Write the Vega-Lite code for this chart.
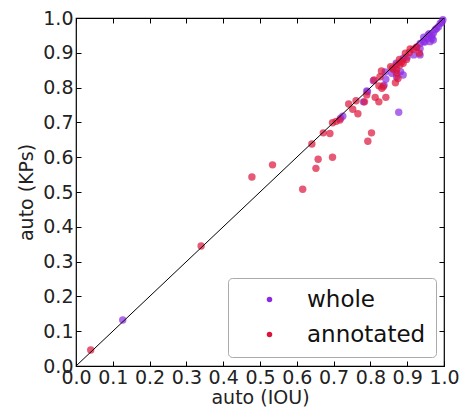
{
  "$schema": "https://vega.github.io/schema/vega-lite/v6.json",
  "width": 368,
  "height": 348,
  "autosize": "none",
  "padding": {"left": 76, "top": 18, "right": 24, "bottom": 48},
  "background": "white",
  "config": {
    "view": {"stroke": "black", "strokeWidth": 1.2},
    "font": "DejaVu Sans",
    "axis": {
      "grid": false,
      "domain": false,
      "tickColor": "black",
      "tickSize": -5,
      "labelFont": "DejaVu Sans",
      "labelFontSize": 19,
      "labelColor": "#222",
      "titleFont": "DejaVu Sans",
      "titleFontSize": 19,
      "titleFontWeight": "normal",
      "titleColor": "#222"
    }
  },
  "layer": [
    {
      "data": {
        "values": [
          {"iou": 0.127, "kps": 0.132, "series": "whole"},
          {"iou": 0.719, "kps": 0.712, "series": "whole"},
          {"iou": 0.725, "kps": 0.718, "series": "whole"},
          {"iou": 0.781, "kps": 0.759, "series": "whole"},
          {"iou": 0.790, "kps": 0.790, "series": "whole"},
          {"iou": 0.792, "kps": 0.788, "series": "whole"},
          {"iou": 0.808, "kps": 0.820, "series": "whole"},
          {"iou": 0.837, "kps": 0.807, "series": "whole"},
          {"iou": 0.842, "kps": 0.824, "series": "whole"},
          {"iou": 0.864, "kps": 0.851, "series": "whole"},
          {"iou": 0.858, "kps": 0.841, "series": "whole"},
          {"iou": 0.871, "kps": 0.831, "series": "whole"},
          {"iou": 0.882, "kps": 0.846, "series": "whole"},
          {"iou": 0.889, "kps": 0.836, "series": "whole"},
          {"iou": 0.877, "kps": 0.729, "series": "whole"},
          {"iou": 0.900, "kps": 0.888, "series": "whole"},
          {"iou": 0.918, "kps": 0.894, "series": "whole"},
          {"iou": 0.935, "kps": 0.894, "series": "whole"},
          {"iou": 0.935, "kps": 0.912, "series": "whole"},
          {"iou": 0.935, "kps": 0.927, "series": "whole"},
          {"iou": 0.944, "kps": 0.932, "series": "whole"},
          {"iou": 0.948, "kps": 0.931, "series": "whole"},
          {"iou": 0.953, "kps": 0.941, "series": "whole"},
          {"iou": 0.962, "kps": 0.932, "series": "whole"},
          {"iou": 0.967, "kps": 0.941, "series": "whole"},
          {"iou": 0.971, "kps": 0.937, "series": "whole"},
          {"iou": 0.957, "kps": 0.951, "series": "whole"},
          {"iou": 0.967, "kps": 0.950, "series": "whole"},
          {"iou": 0.971, "kps": 0.956, "series": "whole"},
          {"iou": 0.976, "kps": 0.966, "series": "whole"},
          {"iou": 0.980, "kps": 0.970, "series": "whole"},
          {"iou": 0.985, "kps": 0.975, "series": "whole"},
          {"iou": 0.990, "kps": 0.985, "series": "whole"},
          {"iou": 0.994, "kps": 0.987, "series": "whole"},
          {"iou": 0.997, "kps": 0.995, "series": "whole"},
          {"iou": 0.925, "kps": 0.915, "series": "whole"},
          {"iou": 0.945, "kps": 0.945, "series": "whole"},
          {"iou": 0.960, "kps": 0.955, "series": "whole"},
          {"iou": 0.890, "kps": 0.885, "series": "whole"},
          {"iou": 0.870, "kps": 0.870, "series": "whole"},
          {"iou": 0.840, "kps": 0.845, "series": "whole"},
          {"iou": 0.040, "kps": 0.046, "series": "annotated"},
          {"iou": 0.340, "kps": 0.345, "series": "annotated"},
          {"iou": 0.478, "kps": 0.543, "series": "annotated"},
          {"iou": 0.534, "kps": 0.578, "series": "annotated"},
          {"iou": 0.616, "kps": 0.508, "series": "annotated"},
          {"iou": 0.652, "kps": 0.568, "series": "annotated"},
          {"iou": 0.658, "kps": 0.594, "series": "annotated"},
          {"iou": 0.697, "kps": 0.600, "series": "annotated"},
          {"iou": 0.641, "kps": 0.638, "series": "annotated"},
          {"iou": 0.672, "kps": 0.670, "series": "annotated"},
          {"iou": 0.690, "kps": 0.668, "series": "annotated"},
          {"iou": 0.697, "kps": 0.699, "series": "annotated"},
          {"iou": 0.707, "kps": 0.703, "series": "annotated"},
          {"iou": 0.717, "kps": 0.707, "series": "annotated"},
          {"iou": 0.793, "kps": 0.646, "series": "annotated"},
          {"iou": 0.803, "kps": 0.670, "series": "annotated"},
          {"iou": 0.741, "kps": 0.753, "series": "annotated"},
          {"iou": 0.752, "kps": 0.738, "series": "annotated"},
          {"iou": 0.761, "kps": 0.762, "series": "annotated"},
          {"iou": 0.766, "kps": 0.725, "series": "annotated"},
          {"iou": 0.784, "kps": 0.759, "series": "annotated"},
          {"iou": 0.790, "kps": 0.779, "series": "annotated"},
          {"iou": 0.813, "kps": 0.772, "series": "annotated"},
          {"iou": 0.823, "kps": 0.759, "series": "annotated"},
          {"iou": 0.842, "kps": 0.772, "series": "annotated"},
          {"iou": 0.810, "kps": 0.822, "series": "annotated"},
          {"iou": 0.823, "kps": 0.805, "series": "annotated"},
          {"iou": 0.830, "kps": 0.848, "series": "annotated"},
          {"iou": 0.826, "kps": 0.831, "series": "annotated"},
          {"iou": 0.835, "kps": 0.803, "series": "annotated"},
          {"iou": 0.831, "kps": 0.798, "series": "annotated"},
          {"iou": 0.868, "kps": 0.814, "series": "annotated"},
          {"iou": 0.875, "kps": 0.826, "series": "annotated"},
          {"iou": 0.871, "kps": 0.841, "series": "annotated"},
          {"iou": 0.871, "kps": 0.851, "series": "annotated"},
          {"iou": 0.880, "kps": 0.865, "series": "annotated"},
          {"iou": 0.879, "kps": 0.881, "series": "annotated"},
          {"iou": 0.889, "kps": 0.870, "series": "annotated"},
          {"iou": 0.898, "kps": 0.881, "series": "annotated"},
          {"iou": 0.895, "kps": 0.899, "series": "annotated"},
          {"iou": 0.906, "kps": 0.901, "series": "annotated"},
          {"iou": 0.917, "kps": 0.910, "series": "annotated"},
          {"iou": 0.926, "kps": 0.917, "series": "annotated"},
          {"iou": 0.933, "kps": 0.899, "series": "annotated"},
          {"iou": 0.908, "kps": 0.911, "series": "annotated"},
          {"iou": 0.871, "kps": 0.865, "series": "annotated"},
          {"iou": 0.885, "kps": 0.875, "series": "annotated"},
          {"iou": 0.860, "kps": 0.855, "series": "annotated"},
          {"iou": 0.855, "kps": 0.860, "series": "annotated"}
        ]
      },
      "mark": {"type": "circle", "size": 55, "opacity": 0.7},
      "encoding": {
        "x": {
          "field": "iou", "type": "quantitative",
          "scale": {"domain": [0, 1], "nice": false, "zero": false},
          "axis": {"title": "auto (IOU)", "values": [0, 0.1, 0.2, 0.3, 0.4, 0.5, 0.6, 0.7, 0.8, 0.9, 1.0], "format": ".1f", "labelPadding": 7, "labelFlush": false, "titlePadding": 1}
        },
        "y": {
          "field": "kps", "type": "quantitative",
          "scale": {"domain": [0, 1], "nice": false, "zero": false},
          "axis": {"title": "auto (KPs)", "values": [0, 0.1, 0.2, 0.3, 0.4, 0.5, 0.6, 0.7, 0.8, 0.9, 1.0], "format": ".1f", "labelPadding": 8, "labelFlush": false, "titlePadding": 6}
        },
        "color": {
          "field": "series", "type": "nominal",
          "scale": {"domain": ["whole", "annotated"], "range": ["#8a2be2", "#dc143c"]},
          "legend": {
            "title": null,
            "orient": "none",
            "legendX": 152,
            "legendY": 260,
            "padding": 10,
            "strokeColor": "#aaaaaa",
            "fillColor": "white",
            "cornerRadius": 4,
            "symbolType": "circle",
            "symbolSize": 30,
            "symbolOpacity": 1,
            "symbolOffset": 20,
            "labelOffset": 26,
            "labelFont": "DejaVu Sans",
            "labelFontSize": 23,
            "labelColor": "#111",
            "rowPadding": 11
          }
        }
      }
    },
    {
      "data": {"values": [{"iou": 0, "kps": 0}, {"iou": 1, "kps": 1}]},
      "mark": {"type": "line", "color": "black", "strokeWidth": 1},
      "encoding": {
        "x": {"field": "iou", "type": "quantitative", "axis": {"orient": "top", "labels": false, "title": null, "values": [0, 0.1, 0.2, 0.3, 0.4, 0.5, 0.6, 0.7, 0.8, 0.9, 1.0]}},
        "y": {"field": "kps", "type": "quantitative", "axis": {"orient": "right", "labels": false, "title": null, "values": [0, 0.1, 0.2, 0.3, 0.4, 0.5, 0.6, 0.7, 0.8, 0.9, 1.0]}}
      }
    }
  ],
  "resolve": {"axis": {"x": "independent", "y": "independent"}}
}
